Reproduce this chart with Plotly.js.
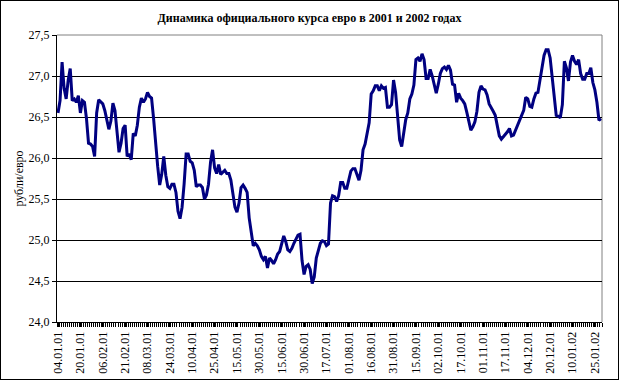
<!DOCTYPE html>
<html>
<head>
<meta charset="utf-8">
<script src="https://cdn.plot.ly/plotly-3.0.1.min.js"></script>
<style>
  html, body { margin: 0; padding: 0; background: #fff; }
  #chart { width: 617px; height: 378px; border: 1px solid #000; }
</style>
</head>
<body>
<div id="chart"></div>
<script>
// Official EUR rate (rubles per euro), one value per trading day, 04.01.01 .. early 02.2002
const rate = [
  26.55, 26.70, 27.17, 26.85, 26.72, 26.95, 27.09, 26.70, 26.72, 26.68,
  26.76, 26.55, 26.70, 26.68, 26.48, 26.18, 26.17, 26.14, 26.02, 26.55,
  26.71, 26.69, 26.66, 26.58, 26.44, 26.35, 26.45, 26.67, 26.58, 26.35,
  26.07, 26.18, 26.36, 26.40, 26.02, 26.05, 25.98, 26.30, 26.27, 26.40,
  26.62, 26.73, 26.68, 26.72, 26.80, 26.75, 26.73, 26.48, 26.17, 25.90,
  25.67, 25.80, 26.02, 25.79, 25.65, 25.63, 25.68, 25.68, 25.58, 25.35,
  25.26, 25.40, 25.68, 26.05, 26.05, 25.96, 25.94, 25.85, 25.65, 25.67,
  25.67, 25.64, 25.50, 25.55, 25.68, 25.95, 26.10, 25.88, 25.81, 25.92,
  25.80, 25.82, 25.85, 25.81, 25.81, 25.73, 25.55, 25.40, 25.34, 25.45,
  25.64, 25.67, 25.63, 25.58, 25.27, 25.08, 24.93, 24.96, 24.93, 24.88,
  24.80, 24.76, 24.80, 24.66, 24.78, 24.75, 24.71, 24.76, 24.83, 24.86,
  24.97, 25.05, 24.98, 24.88, 24.86, 24.90, 24.96, 25.01, 25.06, 25.07,
  24.75, 24.58, 24.68, 24.70, 24.64, 24.47, 24.55, 24.78, 24.88, 24.96,
  24.99, 24.98, 24.93, 24.95, 25.45, 25.54, 25.53, 25.47, 25.54, 25.70,
  25.70, 25.63, 25.63, 25.74, 25.84, 25.87, 25.87, 25.80, 25.73, 25.85,
  26.10, 26.17, 26.28, 26.43, 26.78, 26.82, 26.88, 26.88, 26.82, 26.88,
  26.85, 26.86, 26.62, 26.62, 26.65, 26.95, 26.80, 26.48, 26.22, 26.14,
  26.28, 26.47, 26.55, 26.72, 26.78, 26.89, 27.20, 27.22, 27.18, 27.27,
  27.20, 26.97, 26.97, 27.08, 27.00, 26.90, 26.79, 26.90, 27.03, 27.09,
  27.11, 27.08, 27.13, 27.07, 26.90, 26.89, 26.68, 26.79, 26.73, 26.70,
  26.66, 26.56, 26.43, 26.34, 26.38, 26.44, 26.57, 26.80, 26.88, 26.84,
  26.83, 26.77, 26.66, 26.62, 26.57, 26.52, 26.40, 26.27, 26.23, 26.26,
  26.28, 26.32, 26.36, 26.27, 26.28, 26.34, 26.38, 26.46, 26.51, 26.58,
  26.74, 26.72, 26.63, 26.62, 26.72, 26.79, 26.80, 26.95, 27.08, 27.25,
  27.32, 27.32, 27.22, 27.00, 26.70, 26.52, 26.51, 26.49, 26.65, 27.18,
  27.10, 26.94, 27.17, 27.25, 27.18, 27.14, 27.20, 27.03, 26.96, 26.96,
  27.03, 27.03, 27.10, 26.92, 26.83, 26.68, 26.46, 26.48
];

// Date labels shown on the category axis (every 11th trading day)
const dateLabels = [
  "04.01.01", "20.01.01", "06.02.01", "21.02.01", "08.03.01", "24.03.01",
  "10.04.01", "25.04.01", "15.05.01", "30.05.01", "15.06.01", "30.06.01",
  "17.07.01", "01.08.01", "16.08.01", "31.08.01", "15.09.01", "02.10.01",
  "17.10.01", "01.11.01", "17.11.01", "04.12.01", "20.12.01", "10.01.02",
  "25.01.02"
];
const labelStep = 11;

const yTicks = [24.0, 24.5, 25.0, 25.5, 26.0, 26.5, 27.0, 27.5];

const titleText = "Динамика официального курса евро в 2001 и 2002 годах";
const yTitle = "рубли/евро";

const xIdx = rate.map((_, i) => i);
const labelPos = dateLabels.map((_, k) => k * labelStep);

const serif = "Liberation Serif, Times New Roman, serif";

const trace = {
  x: xIdx,
  y: rate,
  type: "scatter",
  mode: "lines",
  line: { color: "#000080", width: 3 },
  hoverinfo: "skip"
};

const layout = {
  width: 617,
  height: 378,
  margin: { l: 56, r: 16, t: 34, b: 57, pad: 0 },
  paper_bgcolor: "#ffffff",
  plot_bgcolor: "#ffffff",
  showlegend: false,
  separators: ", ",
  title: {
    text: "<b>" + titleText + "</b>",
    font: { family: serif, size: 12, color: "#000" },
    x: 0.5, xanchor: "center",
    y: 1 - 17 / 378, yanchor: "middle", yref: "container"
  },
  xaxis: {
    range: [-0.5, rate.length - 0.5],
    tickmode: "array",
    tickvals: labelPos,
    ticktext: dateLabels,
    tickangle: -90,
    ticks: "outside",
    ticklen: 4,
    tickcolor: "#000",
    tickfont: { family: serif, size: 12, color: "#000" },
    showgrid: false,
    zeroline: false,
    showline: true,
    linecolor: "#000",
    linewidth: 1,
    minor: { tick0: -0.5, dtick: 1, ticks: "outside", ticklen: 4, tickcolor: "#000", showgrid: false },
    fixedrange: true
  },
  yaxis: {
    range: [24, 27.5],
    tickmode: "array",
    tickvals: yTicks,
    tickformat: ".1f",
    ticks: "outside",
    ticklen: 4,
    tickcolor: "#000",
    tickfont: { family: serif, size: 12, color: "#000" },
    showgrid: true,
    gridcolor: "#000",
    gridwidth: 1,
    zeroline: false,
    showline: true,
    linecolor: "#000",
    linewidth: 1,
    title: { text: yTitle, font: { family: serif, size: 12, color: "#000" }, standoff: 2 },
    fixedrange: true
  },
  shapes: [
    { type: "line", xref: "paper", yref: "paper", x0: 0, x1: 1, y0: 1, y1: 1,
      line: { color: "#808080", width: 1 }, layer: "above" },
    { type: "line", xref: "paper", yref: "paper", x0: 1, x1: 1, y0: 0, y1: 1,
      line: { color: "#808080", width: 1 }, layer: "below" }
  ]
};

Plotly.newPlot("chart", [trace], layout, { displayModeBar: false, staticPlot: true });
</script>
</body>
</html>
